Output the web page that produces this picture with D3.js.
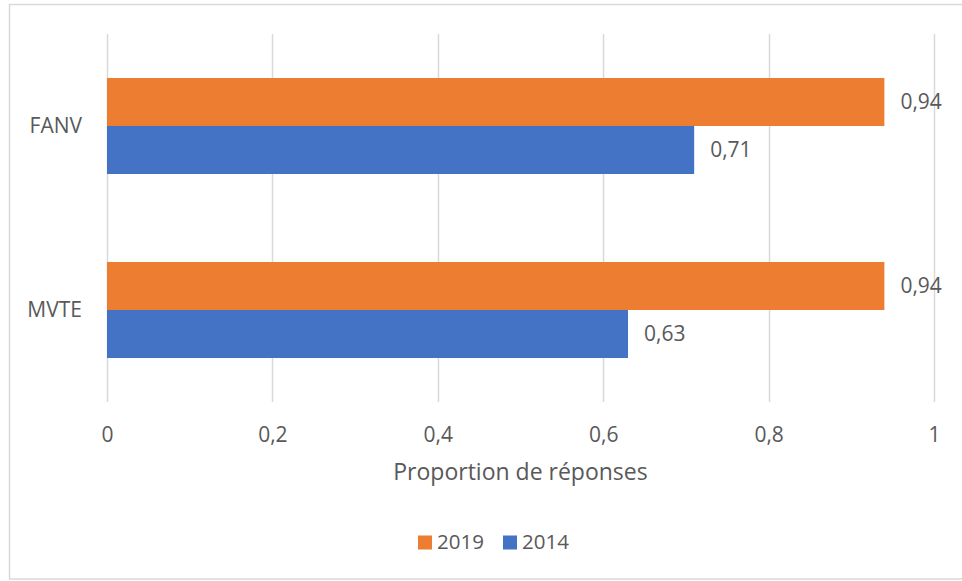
<!DOCTYPE html>
<html>
<head>
<meta charset="utf-8">
<script src="https://cdn.jsdelivr.net/npm/d3@7"></script>
<style>
  html, body { margin: 0; padding: 0; background: #fff; }
  svg { display: block; font-family: "Open Sans", "Noto Sans", sans-serif; }
</style>
</head>
<body>
<svg id="chart" width="962" height="581"></svg>
<script>
const categories = ["FANV", "MVTE"];
const seriesNames = ["2019", "2014"];
const values2019 = [0.94, 0.94];
const values2014 = [0.71, 0.63];
const xTicks = [0, 0.2, 0.4, 0.6, 0.8, 1];
const xTickLabels = ["0", "0,2", "0,4", "0,6", "0,8", "1"];
const axisTitle = "Proportion de réponses";
const colors = { "2019": "#ED7D31", "2014": "#4472C4" };

const seriesValues = { "2019": values2019, "2014": values2014 };
const rows = categories.map((c, i) => ({
  category: c,
  bars: seriesNames.map(s => ({ series: s, value: seriesValues[s][i] }))
}));

const svg = d3.select("#chart");
const textColor = "#595959";
const gridColor = "#D9D9D9";

// chart border
svg.append("rect")
  .attr("x", 9.5).attr("y", 4.5)
  .attr("width", 962).attr("height", 574.5)
  .attr("fill", "#fff").attr("stroke", gridColor).attr("stroke-width", 1.5);

const plot = { left: 107, right: 934, top: 34, bottom: 402 };

const x = d3.scaleLinear().domain([0, 1]).range([plot.left, plot.right]);
const y0 = d3.scaleBand().domain(categories).range([plot.top, plot.bottom]).padding(0);
const y1 = d3.scaleBand().domain(seriesNames).range([0, y0.bandwidth()])
  .paddingInner(0).paddingOuter(0.9167);

// gridlines
svg.append("g").selectAll("line").data(xTicks).join("line")
  .attr("x1", d => Math.round(x(d)) + 0.5).attr("x2", d => Math.round(x(d)) + 0.5)
  .attr("y1", plot.top).attr("y2", plot.bottom)
  .attr("stroke", gridColor).attr("stroke-width", 1.5);

// x tick labels via axis
const xAxis = d3.axisBottom(x).tickValues(xTicks)
  .tickFormat((d, i) => xTickLabels[i]).tickSize(0).tickPadding(0);
const gx = svg.append("g").attr("transform", `translate(0, ${plot.bottom + 25})`).call(xAxis);
gx.select(".domain").remove();
gx.selectAll("text").attr("fill", textColor).attr("font-size", 21)
  .attr("font-family", "'Open Sans', sans-serif").attr("dy", "0.71em");

// y category labels
const yAxis = d3.axisLeft(y0).tickSize(0).tickPadding(25);
const gy = svg.append("g").attr("transform", `translate(${plot.left}, 0)`).call(yAxis);
gy.select(".domain").remove();
gy.selectAll("text").attr("fill", textColor).attr("font-size", 21)
  .attr("font-family", "'Open Sans', sans-serif");

// bars
const groups = svg.append("g").selectAll("g").data(rows).join("g")
  .attr("transform", d => `translate(0, ${y0(d.category)})`);

groups.selectAll("rect").data(d => d.bars).join("rect")
  .attr("x", x(0))
  .attr("y", d => y1(d.series))
  .attr("width", d => x(d.value) - x(0))
  .attr("height", y1.bandwidth())
  .attr("fill", d => colors[d.series]);

groups.selectAll("text.lbl").data(d => d.bars).join("text")
  .attr("class", "lbl")
  .attr("x", d => x(d.value) + 16)
  .attr("y", d => y1(d.series) + y1.bandwidth() / 2)
  .attr("dy", "0.35em")
  .attr("fill", textColor).attr("font-size", 21)
  .text(d => d3.format(".2f")(d.value).replace(".", ","));

// axis title
svg.append("text")
  .attr("x", (plot.left + plot.right) / 2)
  .attr("y", 480)
  .attr("text-anchor", "middle")
  .attr("fill", textColor).attr("font-size", 23)
  .text(axisTitle);

// legend
const legend = svg.append("g");
const legendX = [418, 503];
seriesNames.forEach((s, i) => {
  legend.append("rect").attr("x", legendX[i]).attr("y", 535.5)
    .attr("width", 14).attr("height", 14).attr("fill", colors[s]);
  legend.append("text").attr("x", legendX[i] + 19).attr("y", 549)
    .attr("fill", textColor).attr("font-size", 20.5).text(s);
});
</script>
</body>
</html>
